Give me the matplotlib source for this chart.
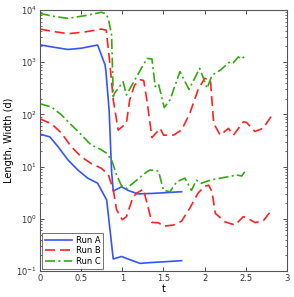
import matplotlib
matplotlib.use("Agg")
import matplotlib.pyplot as plt
from matplotlib.ticker import LogLocator, NullFormatter

# Run A
tA_len = [0.0, 0.15, 0.34, 0.5, 0.7, 0.79, 0.80, 0.84, 0.87, 0.89, 0.99, 1.07, 1.19, 1.34, 1.5, 1.72]
A_len = [2150, 1950, 1750, 1850, 2130, 890, 700, 120, 8, 3.4, 4.1, 3.5, 3.0, 3.05, 3.15, 3.3]
tA_wid = [0.0, 0.12, 0.22, 0.34, 0.46, 0.58, 0.70, 0.81, 0.89, 0.99, 1.07, 1.215, 1.34, 1.5, 1.72]
A_wid = [42, 37, 24, 13.4, 8.6, 6.0, 4.8, 2.3, 0.17, 0.19, 0.17, 0.14, 0.145, 0.15, 0.158]

# Run B
tB_len = [0.0, 0.15, 0.34, 0.55, 0.745, 0.805, 0.85, 0.89, 0.95, 1.05, 1.09, 1.15, 1.22, 1.26, 1.30, 1.36,
          1.46, 1.50, 1.62, 1.72, 1.82, 1.92, 2.0, 2.07, 2.11, 2.19, 2.29, 2.35, 2.47, 2.51, 2.61, 2.71, 2.82]
B_len = [4300, 3900, 3500, 3800, 4300, 4100, 900, 190, 50, 68, 190, 366, 460, 445, 180, 36,
         54, 40, 40, 50, 105, 295, 490, 457, 67, 40, 54, 40, 72, 70, 47, 54, 97]
tB_wid = [0.0, 0.14, 0.26, 0.38, 0.50, 0.62, 0.745, 0.83, 0.89, 0.93, 1.0, 1.05, 1.13, 1.175, 1.255, 1.30, 1.36,
          1.44, 1.50, 1.62, 1.72, 1.82, 1.92, 2.0, 2.05, 2.09, 2.13, 2.25, 2.37, 2.47, 2.51, 2.61, 2.71, 2.79]
B_wid = [82, 66, 44, 24, 15.5, 11.5, 9.3, 7.0, 3.6, 1.5, 0.96, 1.1, 2.6, 3.1, 3.7, 2.0, 0.85,
         0.84, 0.72, 0.76, 0.9, 1.6, 3.1, 4.2, 4.4, 3.3, 1.27, 0.87, 0.76, 1.1, 1.05, 0.85, 0.9, 1.32]

# Run C
tC_len = [0.0, 0.15, 0.34, 0.55, 0.745, 0.80, 0.83, 0.87, 0.89, 0.91, 1.01, 1.05, 1.175, 1.30, 1.36, 1.40,
          1.44, 1.51, 1.58, 1.70, 1.81, 1.94, 1.98, 2.03, 2.09, 2.19, 2.31, 2.35, 2.41, 2.45, 2.51]
C_len = [8600, 7600, 6900, 7800, 9000, 8500, 6900, 3300, 220, 260, 420, 235, 530, 1180, 1150, 340,
         380, 135, 190, 660, 300, 760, 520, 316, 560, 700, 1030, 980, 1260, 1150, 1400]
tC_wid = [0.0, 0.14, 0.26, 0.38, 0.50, 0.62, 0.745, 0.81, 0.87, 0.93, 0.99, 1.05, 1.175, 1.30, 1.34, 1.44,
          1.50, 1.58, 1.66, 1.76, 1.84, 1.90, 1.96, 2.07, 2.19, 2.31, 2.39, 2.45, 2.51]
C_wid = [160, 138, 98, 63, 41, 26, 21, 18, 13.4, 7.0, 4.3, 3.8, 5.5, 8.0, 8.6, 8.2,
         3.5, 3.3, 5.1, 6.0, 3.5, 5.5, 4.8, 5.5, 6.0, 6.5, 6.9, 6.6, 8.9]

blue = "#3355ff"
red = "#ff2222"
green = "#33aa11"

fig = plt.figure(figsize=(2.94, 2.97), dpi=100)
ax = fig.add_axes([0.136, 0.0875, 0.840, 0.879])

lw = 1.2
ax.plot(tA_len, A_len, color=blue, lw=lw, label="Run A")
ax.plot(tA_wid, A_wid, color=blue, lw=lw)
ax.plot(tB_len, B_len, color=red, lw=lw, dashes=(6, 3), label="Run B")
ax.plot(tB_wid, B_wid, color=red, lw=lw, dashes=(6, 3))
ax.plot(tC_len, C_len, color=green, lw=lw, dashes=(6, 2, 1.2, 2), label="Run C")
ax.plot(tC_wid, C_wid, color=green, lw=lw, dashes=(6, 2, 1.2, 2))

ax.set_yscale("log")
ax.set_xlim(0, 3)
ax.set_ylim(0.1, 1e4)
ax.set_xticks([0, 0.5, 1, 1.5, 2, 2.5, 3])
ax.set_xticklabels(["0", "0.5", "1", "1.5", "2", "2.5", "3"])
ax.yaxis.set_minor_locator(LogLocator(base=10, subs=range(2, 10), numticks=20))
ax.yaxis.set_minor_formatter(NullFormatter())

ax.tick_params(which="both", direction="in", top=True, right=True, labelsize=6, colors="#333333", pad=2)
ax.tick_params(which="major", length=3, width=0.6)
ax.tick_params(which="minor", length=1.6, width=0.5)
for s in ax.spines.values():
    s.set_color("#555555")
    s.set_linewidth(0.8)

ax.set_xlabel("t", fontsize=7, labelpad=1)
ax.set_ylabel("Length, Width (d)", fontsize=7, labelpad=2)

leg = ax.legend(loc="lower left", fontsize=6, frameon=True, fancybox=False,
                edgecolor="#333333", handlelength=3.2, borderpad=0.3, labelspacing=0.2,
                handletextpad=0.5, borderaxespad=0.3)
leg.get_frame().set_linewidth(0.6)

fig.savefig("out.png", dpi=100)
